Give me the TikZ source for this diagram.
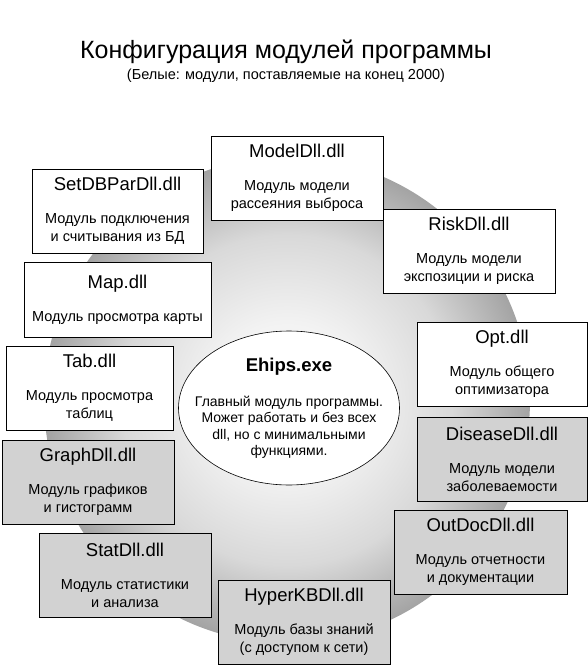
\documentclass[tikz,border=0pt]{standalone}
\usepackage{fontspec}
\setmainfont{Liberation Sans}
\usepackage{tikz}
\usetikzlibrary{shapes.geometric}
\definecolor{planc}{RGB}{210,210,210}
\pgfdeclareradialshading{sphereshade}{\pgfpoint{0bp}{0bp}}{%
  color(0bp)=(white); color(8bp)=(white!95!black); color(17bp)=(white!85!black);
  color(25bp)=(white!64!black); color(50bp)=(white!64!black)}
\newcommand\modname[1]{{\fontsize{18.5}{20}\selectfont #1}\\[15pt]}

\begin{document}
\begin{tikzpicture}[x=1pt,y=-1pt,
  modbox/.style={draw,line width=1pt,minimum width=172pt,minimum height=84pt,
    align=center,inner sep=0pt,font=\fontsize{14.5}{18}\selectfont},
  readybox/.style={modbox,fill=white},
  plannedbox/.style={modbox,fill=planc}]
  \useasboundingbox (0,0) rectangle (588,666);
  % backdrop sphere
  \shade[shading=sphereshade] (287,400) circle[radius=243];
  % heading
  \node[font=\fontsize{25}{28}\selectfont] (title) at (286,52) {Конфигурация модулей программы};
  \node[font=\fontsize{14.5}{17}\selectfont] (subtitle) at (286,76) {(Белые: модули, поставляемые на конец 2000)};
  % white: ready by end of 2000
  \node[readybox] (model) at (297,178) {\modname{ModelDll.dll}Модуль модели\\рассеяния выброса};
  \node[readybox,minimum width=171pt] (setdb) at (117.5,211) {\modname{SetDBParDll.dll}Модуль подключения\\и считывания из БД};
  \node[readybox] (risk) at (469,251) {\modname{RiskDll.dll}Модуль модели\\экспозиции и риска};
  \node[readybox,minimum width=187pt,minimum height=75pt] (map) at (117.5,299.5) {\modname{Map.dll}Модуль просмотра карты};
  \node[readybox,minimum width=167pt] (tab) at (89.5,388) {\modname{Tab.dll}Модуль просмотра\\таблиц};
  \node[readybox,minimum width=170pt] (opt) at (502,364) {\modname{Opt.dll}Модуль общего\\оптимизатора};
  % gray: planned
  \node[plannedbox] (graph) at (88,482) {\modname{GraphDll.dll}Модуль графиков\\и гистограмм};
  \node[plannedbox,minimum width=170pt] (disease) at (502,459.5) {\modname{DiseaseDll.dll}Модуль модели\\заболеваемости};
  \node[plannedbox,minimum width=173pt] (outdoc) at (480.5,552) {\modname{OutDocDll.dll}Модуль отчетности\\и документации};
  \node[plannedbox] (stat) at (125,575) {\modname{StatDll.dll}Модуль статистики\\и анализа};
  \node[plannedbox] (hyperkb) at (304,622) {\modname{HyperKBDll.dll}Модуль базы знаний\\(с доступом к сети)};
  % main module
  \node[ellipse,draw,line width=0.6pt,fill=white,minimum width=221pt,minimum height=154pt,
    inner sep=0pt] (ehips) at (289,408) {};
  \node[align=center,inner sep=0pt,font=\fontsize{14}{16.3}\selectfont] (ehipstext) at (ehips.center)
    {{\fontsize{18.5}{20}\selectfont\bfseries Ehips.exe}\\[19pt]Главный модуль программы.\\Может работать и без всех\\dll, но с минимальными\\функциями.};
\end{tikzpicture}
\end{document}
